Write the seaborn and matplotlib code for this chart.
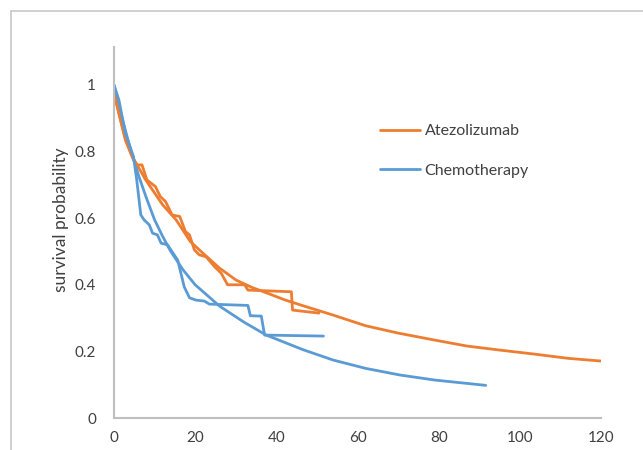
import matplotlib
matplotlib.use("Agg")
import matplotlib.pyplot as plt
from matplotlib.lines import Line2D
import seaborn as sns
import pandas as pd

# Kaplan-Meier (observed) curves
atezo_km_t = [0, 2.8, 4.8, 5.6, 6.9, 8.1, 10.2, 11.4, 12.7, 14.3, 16.2, 17.6, 18.6, 19.8, 21, 22.7,
              24.8, 26.4, 28, 32.2, 33, 37.5, 43.7, 44, 50.5]
atezo_km_s = [0.975, 0.835, 0.775, 0.76, 0.76, 0.715, 0.695, 0.665, 0.65, 0.61, 0.605, 0.56, 0.55, 0.505,
              0.49, 0.484, 0.454, 0.435, 0.40, 0.40, 0.384, 0.382, 0.379, 0.324, 0.315]
chemo_km_t = [0, 1.2, 2.8, 4.8, 5.6, 6.6, 7.4, 8.7, 9.5, 10.7, 11.6, 13.2, 14, 15.7, 17.3, 18.6, 20.2,
              22.3, 23.5, 33, 33.6, 36.3, 37.1, 51.6]
chemo_km_s = [1.0, 0.955, 0.855, 0.785, 0.715, 0.61, 0.595, 0.58, 0.555, 0.55, 0.525, 0.52, 0.505, 0.474,
              0.394, 0.361, 0.354, 0.351, 0.342, 0.338, 0.307, 0.306, 0.249, 0.246]

# Fitted (extrapolated) curves
atezo_fit_t = [0, 1.5, 3, 4.5, 7.8, 12, 15.3, 18.8, 21.9, 26, 30.1, 34, 38.4, 42, 46.6, 54, 62, 70,
               79, 87, 95, 103.5, 112, 120]
atezo_fit_s = [0.975, 0.90, 0.83, 0.785, 0.715, 0.64, 0.595, 0.53, 0.495, 0.45, 0.414, 0.392, 0.372,
               0.355, 0.337, 0.309, 0.277, 0.255, 0.234, 0.216, 0.204, 0.192, 0.179, 0.171]
chemo_fit_t = [0, 2, 4, 6, 8, 10, 12, 14, 17, 20, 26, 32, 37.5, 46.6, 54, 62, 70.5, 79, 91.6]
chemo_fit_s = [1.0, 0.90, 0.81, 0.73, 0.66, 0.595, 0.545, 0.50, 0.445, 0.40, 0.336, 0.288, 0.249,
               0.205, 0.174, 0.149, 0.129, 0.114, 0.098]

labels = ["Atezolizumab", "Chemotherapy"]
x_ticks = [0, 20, 40, 60, 80, 100, 120]
y_ticks = [0, 0.2, 0.4, 0.6, 0.8, 1]
y_tick_labels = ["0", "0.2", "0.4", "0.6", "0.8", "1"]

ORANGE = "#ED7D31"
BLUE = "#5B9BD5"

sns.set_style("white")
plt.rcParams["font.family"] = ["Lato", "DejaVu Sans"]

W, H = 643, 450
fig = plt.figure(figsize=(W / 100, H / 100), dpi=100)
ax = fig.add_axes([114 / W, 1 - 418 / H, (601 - 114) / W, (418 - 47) / H])

lw = 2.0
sns.lineplot(data=pd.DataFrame({"t": atezo_fit_t, "s": atezo_fit_s}), x="t", y="s", sort=False,
             estimator=None, color=ORANGE, lw=lw, ax=ax)
sns.lineplot(data=pd.DataFrame({"t": chemo_fit_t, "s": chemo_fit_s}), x="t", y="s", sort=False,
             estimator=None, color=BLUE, lw=lw, ax=ax)
sns.lineplot(data=pd.DataFrame({"t": atezo_km_t, "s": atezo_km_s}), x="t", y="s", sort=False,
             estimator=None, color=ORANGE, lw=lw, ax=ax)
sns.lineplot(data=pd.DataFrame({"t": chemo_km_t, "s": chemo_km_s}), x="t", y="s", sort=False,
             estimator=None, color=BLUE, lw=lw, ax=ax)

ax.set_xlim(0, 120)
ax.set_ylim(0, 1.114)
ax.set_xticks(x_ticks)
ax.set_yticks(y_ticks)
ax.set_yticklabels(y_tick_labels)
ax.tick_params(axis="both", length=0, labelsize=11, colors="#404040")
ax.tick_params(axis="x", pad=9)
ax.tick_params(axis="y", pad=13)
ax.set_xlabel("")
ax.set_ylabel("survival probability", fontsize=12.5, color="#404040")
ax.yaxis.set_label_coords(-0.093, 0.534)
for side in ["top", "right"]:
    ax.spines[side].set_visible(False)
for side in ["left", "bottom"]:
    ax.spines[side].set_color("#BFBFBF")
    ax.spines[side].set_linewidth(1.5)

handles = [Line2D([0], [0], color=ORANGE, lw=lw), Line2D([0], [0], color=BLUE, lw=lw)]
leg = ax.legend(handles, labels, loc="upper left", bbox_to_anchor=(0.546, 0.792), frameon=False,
                fontsize=11.5, handlelength=2.5, handletextpad=0.3, labelspacing=1.6,
                borderpad=0, borderaxespad=0)
for t in leg.get_texts():
    t.set_color("#404040")

# outer frame (top and left edges visible)
fig.add_artist(Line2D([11 / W, 1], [1 - 11 / H, 1 - 11 / H], color="#C8C8C8", lw=1.2,
                      transform=fig.transFigure))
fig.add_artist(Line2D([11 / W, 11 / W], [0, 1 - 11 / H], color="#C8C8C8", lw=1.2,
                      transform=fig.transFigure))

fig.savefig("out.png", dpi=100)
